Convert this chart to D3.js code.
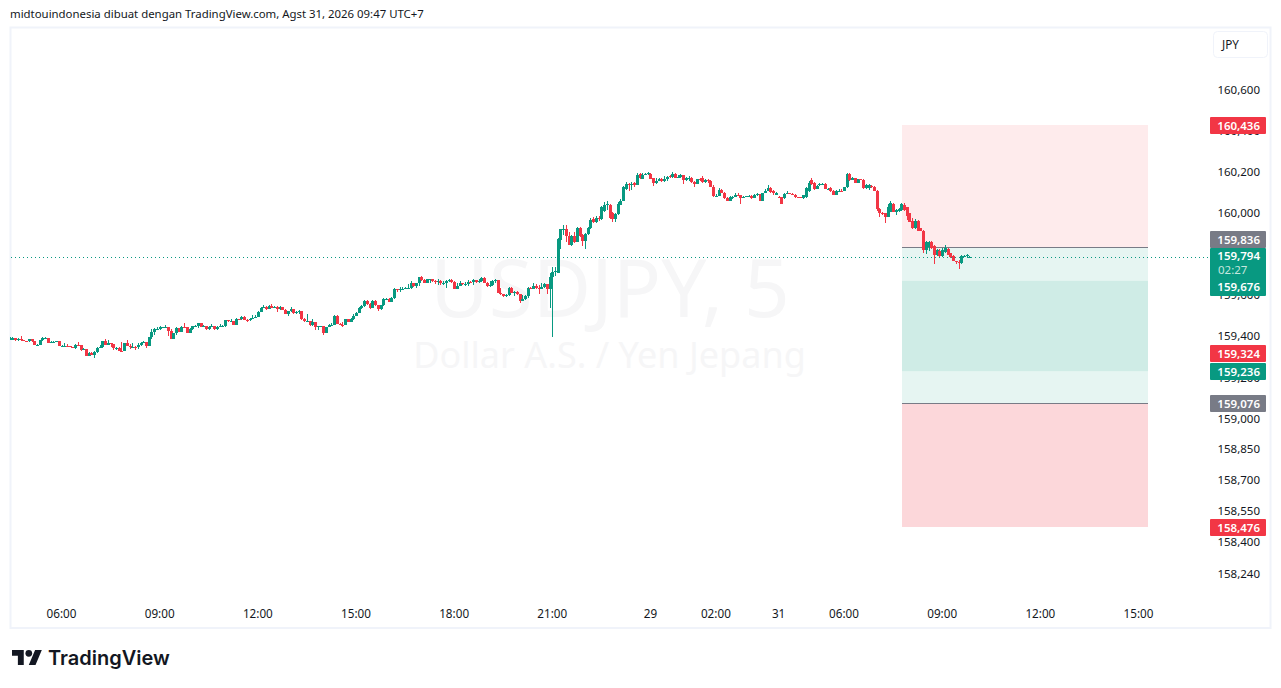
<!DOCTYPE html>
<html>
<head>
<meta charset="utf-8">
<script src="https://cdn.jsdelivr.net/npm/d3@7"></script>
<style>
  html, body { margin: 0; padding: 0; background: #fff; }
  svg { display: block; }
  text { font-family: "Noto Sans", sans-serif; }
</style>
</head>
<body>
<svg id="chart" width="1281" height="688"></svg>
<script>
// bars run from index 1, one per 5 minutes
const opens = [
  159.392,159.394,159.397,159.386,159.392,159.386,159.384,159.381,159.392,159.381,
  159.365,159.365,159.387,159.399,159.399,159.375,159.376,159.378,159.381,159.360,
  159.360,159.360,159.357,159.355,159.350,159.363,159.362,159.337,159.344,159.311,
  159.326,159.314,159.327,159.348,159.352,159.383,159.363,159.371,159.366,159.350,
  159.350,159.336,159.334,159.371,159.360,159.352,159.355,159.353,159.362,159.375,
  159.376,159.360,159.400,159.425,159.441,159.441,159.449,159.449,159.449,159.433,
  159.394,159.420,159.447,159.428,159.453,159.449,159.423,159.443,159.454,159.454,
  159.469,159.453,159.456,159.440,159.453,159.456,159.440,159.449,159.454,159.454,
  159.483,159.479,159.480,159.462,159.492,159.488,159.501,159.485,159.483,159.492,
  159.493,159.498,159.526,159.545,159.548,159.539,159.555,159.543,159.550,159.537,
  159.548,159.535,159.514,159.527,159.539,159.518,159.524,159.530,159.488,159.480,
  159.480,159.459,159.474,159.449,159.454,159.454,159.422,159.450,159.460,159.463,
  159.507,159.466,159.463,159.460,159.490,159.477,159.489,159.505,159.521,159.542,
  159.554,159.578,159.564,159.544,159.578,159.557,159.537,159.557,159.588,159.589,
  159.575,159.591,159.637,159.632,159.635,159.637,159.640,159.640,159.664,159.651,
  159.664,159.693,159.680,159.667,159.684,159.684,159.677,159.671,159.677,159.664,
  159.667,159.674,159.680,159.672,159.637,159.653,159.667,159.661,159.661,159.672,
  159.669,159.680,159.671,159.674,159.690,159.667,159.653,159.654,159.676,159.680,
  159.619,159.612,159.603,159.606,159.642,159.619,159.620,159.612,159.576,159.586,
  159.603,159.643,159.638,159.651,159.642,159.638,159.648,159.661,159.635,159.693,
  159.719,159.715,159.875,159.927,159.927,159.894,159.851,159.894,159.867,159.933,
  159.898,159.870,159.904,159.933,159.976,159.963,159.985,159.976,160.018,160.046,
  160.047,160.005,159.976,160.002,160.046,160.067,160.122,160.148,160.142,160.155,
  160.145,160.197,160.174,160.193,160.197,160.197,160.177,160.151,160.164,160.174,
  160.164,160.171,160.187,160.184,160.197,160.182,160.184,160.193,160.167,160.177,
  160.180,160.158,160.148,160.171,160.177,160.158,160.167,160.161,160.135,160.090,
  160.090,160.119,160.106,160.080,160.067,160.083,160.086,160.096,160.093,160.080,
  160.086,160.086,160.090,160.080,160.096,160.099,160.067,160.103,160.116,160.130,
  160.116,160.094,160.086,160.083,160.078,160.099,160.104,160.101,160.093,160.085,
  160.083,160.080,160.083,160.112,160.167,160.154,160.125,160.142,160.146,160.148,
  160.125,160.129,160.114,160.096,160.114,160.116,160.116,160.132,160.197,160.167,
  160.177,160.154,160.171,160.167,160.127,160.129,160.138,160.135,160.116,160.028,
  160.005,160.005,159.989,160.013,160.051,160.013,160.018,160.021,160.044,160.034,
  160.005,159.969,159.933,159.969,159.932,159.921,159.826,159.839,159.865,159.846,
  159.802,159.823,159.797,159.818,159.833,159.810,159.797,159.771,159.769,159.765,
  159.796,159.797,159.790
];
const highs = [
  159.402,159.402,159.394,159.399,159.407,159.387,159.384,159.394,159.392,159.381,
  159.368,159.389,159.402,159.402,159.399,159.381,159.383,159.383,159.379,159.363,
  159.373,159.368,159.360,159.355,159.368,159.378,159.363,159.348,159.345,159.329,
  159.329,159.336,159.352,159.362,159.384,159.392,159.387,159.373,159.370,159.355,
  159.352,159.378,159.373,159.387,159.366,159.371,159.360,159.371,159.378,159.383,
  159.379,159.404,159.441,159.444,159.449,159.456,159.453,159.461,159.449,159.439,
  159.423,159.451,159.447,159.456,159.470,159.449,159.446,159.456,159.462,159.470,
  159.470,159.459,159.456,159.456,159.466,159.456,159.456,159.466,159.459,159.485,
  159.482,159.488,159.480,159.493,159.492,159.506,159.503,159.490,159.496,159.508,
  159.510,159.529,159.548,159.556,159.555,159.560,159.561,159.555,159.553,159.555,
  159.548,159.537,159.530,159.548,159.539,159.529,159.534,159.530,159.495,159.514,
  159.480,159.490,159.472,159.456,159.457,159.450,159.453,159.466,159.473,159.510,
  159.508,159.469,159.476,159.492,159.492,159.494,159.513,159.524,159.547,159.557,
  159.581,159.583,159.567,159.581,159.583,159.557,159.560,159.591,159.593,159.591,
  159.599,159.641,159.638,159.648,159.645,159.645,159.661,159.674,159.668,159.668,
  159.697,159.700,159.684,159.685,159.687,159.687,159.680,159.684,159.680,159.674,
  159.680,159.687,159.687,159.674,159.664,159.674,159.668,159.671,159.680,159.676,
  159.687,159.680,159.687,159.695,159.693,159.671,159.676,159.680,159.684,159.677,
  159.640,159.612,159.612,159.645,159.645,159.628,159.628,159.612,159.606,159.607,
  159.646,159.648,159.664,159.661,159.654,159.664,159.668,159.661,159.712,159.742,
  159.745,159.885,159.929,159.948,159.948,159.916,159.898,159.914,159.937,159.937,
  159.904,159.911,159.940,159.981,159.986,159.992,159.992,160.041,160.062,160.064,
  160.051,160.013,160.008,160.062,160.073,160.138,160.156,160.151,160.158,160.159,
  160.200,160.200,160.200,160.203,160.207,160.203,160.180,160.176,160.180,160.176,
  160.187,160.187,160.190,160.207,160.200,160.190,160.197,160.193,160.184,160.187,
  160.184,160.164,160.174,160.180,160.187,160.174,160.174,160.167,160.142,160.099,
  160.129,160.125,160.109,160.086,160.090,160.090,160.106,160.106,160.096,160.090,
  160.092,160.096,160.093,160.099,160.103,160.099,160.106,160.122,160.142,160.132,
  160.119,160.109,160.090,160.086,160.106,160.112,160.106,160.103,160.099,160.086,
  160.085,160.096,160.132,160.164,160.176,160.158,160.142,160.154,160.151,160.151,
  160.129,160.132,160.117,160.117,160.125,160.122,160.135,160.200,160.200,160.184,
  160.180,160.174,160.174,160.171,160.148,160.148,160.142,160.138,160.119,160.031,
  160.011,160.008,160.051,160.064,160.054,160.028,160.031,160.057,160.054,160.038,
  160.008,159.981,159.979,159.973,159.935,159.924,159.870,159.870,159.868,159.849,
  159.833,159.829,159.836,159.851,159.836,159.813,159.800,159.774,159.778,159.802,
  159.804,159.807,159.798
];
const lows = [
  159.389,159.391,159.384,159.384,159.384,159.383,159.379,159.379,159.379,159.363,
  159.363,159.363,159.383,159.396,159.373,159.373,159.375,159.376,159.358,159.358,
  159.358,159.355,159.353,159.348,159.344,159.358,159.334,159.339,159.309,159.313,
  159.313,159.300,159.326,159.347,159.350,159.362,159.366,159.355,159.339,159.339,
  159.332,159.331,159.332,159.358,159.345,159.350,159.339,159.342,159.360,159.371,
  159.350,159.358,159.394,159.413,159.436,159.436,159.446,159.446,159.407,159.392,
  159.392,159.412,159.426,159.426,159.444,159.420,159.421,159.438,159.449,159.446,
  159.451,159.453,159.436,159.438,159.449,159.436,159.436,159.451,159.449,159.451,
  159.474,159.475,159.461,159.466,159.485,159.487,159.483,159.475,159.480,159.490,
  159.493,159.498,159.524,159.543,159.535,159.537,159.542,159.542,159.524,159.535,
  159.534,159.513,159.504,159.524,159.516,159.514,159.514,159.485,159.477,159.475,
  159.457,159.457,159.438,159.436,159.451,159.414,159.424,159.456,159.456,159.461,
  159.464,159.460,159.450,159.466,159.476,159.476,159.485,159.503,159.518,159.538,
  159.547,159.560,159.541,159.544,159.554,159.529,159.534,159.554,159.583,159.573,
  159.573,159.589,159.622,159.624,159.632,159.635,159.637,159.637,159.648,159.643,
  159.651,159.677,159.664,159.666,159.667,159.671,159.661,159.656,159.658,159.654,
  159.643,159.671,159.667,159.635,159.635,159.651,159.654,159.651,159.651,159.664,
  159.658,159.664,159.667,159.669,159.666,159.648,159.645,159.651,159.664,159.615,
  159.606,159.596,159.599,159.603,159.615,159.603,159.606,159.570,159.580,159.583,
  159.591,159.635,159.637,159.638,159.612,159.635,159.640,159.612,159.544,159.404,
  159.700,159.713,159.831,159.899,159.867,159.849,159.846,159.859,159.864,159.888,
  159.846,159.833,159.901,159.927,159.959,159.956,159.969,159.973,160.013,160.021,
  159.976,159.963,159.964,159.999,160.046,160.064,160.119,160.116,160.119,160.135,
  160.142,160.171,160.171,160.190,160.190,160.171,160.138,160.148,160.161,160.159,
  160.158,160.161,160.177,160.180,160.177,160.177,160.177,160.148,160.164,160.164,
  160.154,160.135,160.148,160.164,160.154,160.154,160.154,160.132,160.086,160.086,
  160.090,160.103,160.077,160.064,160.070,160.077,160.083,160.090,160.051,160.083,
  160.083,160.083,160.077,160.080,160.090,160.064,160.064,160.103,160.119,160.104,
  160.096,160.093,160.080,160.049,160.077,160.099,160.099,160.096,160.080,160.080,
  160.078,160.077,160.080,160.109,160.145,160.119,160.122,160.138,160.142,160.122,
  160.122,160.109,160.093,160.093,160.112,160.112,160.112,160.129,160.164,160.167,
  160.151,160.151,160.167,160.122,160.122,160.119,160.129,160.112,160.018,159.986,
  159.999,159.960,159.986,160.010,160.010,159.995,160.011,160.018,160.018,159.972,
  159.961,159.930,159.930,159.917,159.917,159.810,159.807,159.823,159.833,159.758,
  159.799,159.790,159.794,159.813,159.800,159.787,159.771,159.758,159.734,159.758,
  159.790,159.794,159.788
];
const closes = [
  159.394,159.397,159.386,159.392,159.386,159.384,159.381,159.392,159.381,159.365,
  159.365,159.387,159.399,159.399,159.375,159.376,159.378,159.381,159.360,159.360,
  159.360,159.357,159.355,159.350,159.363,159.362,159.337,159.344,159.311,159.326,
  159.314,159.327,159.348,159.352,159.383,159.363,159.371,159.366,159.350,159.350,
  159.336,159.334,159.371,159.360,159.352,159.355,159.353,159.362,159.375,159.376,
  159.360,159.400,159.425,159.441,159.441,159.449,159.449,159.449,159.433,159.394,
  159.420,159.447,159.428,159.453,159.449,159.423,159.443,159.454,159.454,159.469,
  159.453,159.456,159.440,159.453,159.456,159.440,159.449,159.454,159.454,159.483,
  159.479,159.480,159.462,159.492,159.488,159.501,159.485,159.483,159.492,159.493,
  159.498,159.526,159.545,159.548,159.539,159.555,159.543,159.550,159.537,159.548,
  159.535,159.514,159.527,159.539,159.518,159.524,159.530,159.488,159.480,159.480,
  159.459,159.474,159.449,159.454,159.454,159.422,159.450,159.460,159.463,159.507,
  159.466,159.463,159.460,159.490,159.477,159.489,159.505,159.521,159.542,159.554,
  159.578,159.564,159.544,159.578,159.557,159.537,159.557,159.588,159.589,159.575,
  159.591,159.637,159.632,159.635,159.637,159.640,159.640,159.664,159.651,159.664,
  159.693,159.680,159.667,159.684,159.684,159.677,159.671,159.677,159.664,159.667,
  159.674,159.680,159.672,159.637,159.653,159.667,159.661,159.661,159.672,159.669,
  159.680,159.671,159.674,159.690,159.667,159.653,159.654,159.676,159.680,159.619,
  159.612,159.603,159.606,159.642,159.619,159.620,159.612,159.576,159.586,159.603,
  159.643,159.638,159.651,159.642,159.638,159.648,159.661,159.635,159.693,159.719,
  159.722,159.880,159.927,159.929,159.894,159.852,159.894,159.867,159.933,159.894,
  159.870,159.904,159.933,159.973,159.963,159.981,159.976,160.038,160.046,160.049,
  159.981,159.976,160.002,160.051,160.067,160.135,160.148,160.142,160.148,160.142,
  160.192,160.180,160.193,160.197,160.200,160.174,160.153,160.164,160.174,160.164,
  160.171,160.184,160.184,160.197,160.180,160.184,160.193,160.167,160.177,160.180,
  160.158,160.148,160.171,160.169,160.158,160.167,160.161,160.135,160.090,160.090,
  160.119,160.106,160.080,160.067,160.083,160.086,160.096,160.093,160.080,160.086,
  160.088,160.090,160.080,160.096,160.099,160.067,160.103,160.116,160.129,160.107,
  160.103,160.104,160.083,160.051,160.099,160.106,160.103,160.099,160.083,160.083,
  160.081,160.093,160.129,160.154,160.148,160.122,160.138,160.148,160.148,160.125,
  160.126,160.112,160.096,160.114,160.116,160.115,160.132,160.197,160.167,160.177,
  160.154,160.171,160.170,160.129,160.143,160.142,160.132,160.116,160.025,160.005,
  160.004,159.989,160.034,160.054,160.013,160.021,160.025,160.051,160.021,159.992,
  159.964,159.933,159.969,159.921,159.921,159.826,159.867,159.867,159.836,159.802,
  159.826,159.797,159.826,159.834,159.804,159.791,159.774,159.766,159.765,159.797,
  159.797,159.800,159.794
];

const priceTicks = [160.6, 160.4, 160.2, 160, 159.6, 159.4, 159.2, 159, 158.85, 158.7, 158.55, 158.4, 158.24];
const timeTickBars = [20, 56, 92, 128, 164, 200, 236, 260, 283, 307, 343, 379, 415];
const timeTickLabels = ["06:00", "09:00", "12:00", "15:00", "18:00", "21:00", "29", "02:00", "31", "06:00", "09:00", "12:00", "15:00"];

// two position tools drawn on top of each other
const shortEntry = 159.836, shortStop = 160.436, shortTarget = 159.236;
const longEntry = 159.076, longStop = 158.476, longTarget = 159.676;
const lastPrice = 159.794;
const redTags = [160.436, 159.324, 158.476];
const grayTags = [159.836, 159.076];
const greenTags = [159.236];

const up = "#089981", down = "#f23645", gray = "#787b86", ink = "#131722";
const svg = d3.select("#chart");
const fmt = d3.formatLocale({ decimal: ",", thousands: ".", grouping: [3], currency: ["", ""] }).format(".3f");

const x = d3.scaleLinear().domain([20, 415]).range([62, 1139]);
const y = d3.scaleLinear().domain([160.436, 158.476]).range([125, 527]);

svg.append("text").attr("x", 10).attr("y", 18).attr("font-size", 11.4).attr("fill", ink)
  .text("midtouindonesia dibuat dengan TradingView.com, Agst 31, 2026 09:47 UTC+7");

svg.append("rect").attr("x", 10.5).attr("y", 27.5).attr("width", 1260).attr("height", 600.5)
  .attr("fill", "none").attr("stroke", "#f0f3fa").attr("stroke-width", 2);

// watermark
svg.append("text").attr("x", 610).attr("y", 317).attr("text-anchor", "middle")
  .attr("font-size", 80).attr("fill", "#f6f6f7").text("USDJPY, 5");
svg.append("text").attr("x", 609.5).attr("y", 368).attr("text-anchor", "middle")
  .attr("font-size", 36).attr("fill", "#f6f6f7").text("Dollar A.S. / Yen Jepang");

// position tools
const zones = [
  [shortEntry, shortStop, "rgba(242,54,69,0.1)"],
  [shortEntry, shortTarget, "rgba(8,153,129,0.1)"],
  [longEntry, longStop, "rgba(242,54,69,0.2)"],
  [longEntry, longTarget, "rgba(8,153,129,0.1)"]
];
svg.append("g").selectAll("rect").data(zones).join("rect")
  .attr("x", 902).attr("width", 246)
  .attr("y", d => Math.min(y(d[0]), y(d[1])))
  .attr("height", d => Math.abs(y(d[0]) - y(d[1])))
  .attr("fill", d => d[2]);
svg.append("g").selectAll("line").data([shortEntry, longEntry]).join("line")
  .attr("x1", 902).attr("x2", 1148)
  .attr("y1", d => Math.round(y(d)) - 0.5).attr("y2", d => Math.round(y(d)) - 0.5)
  .attr("stroke", gray);

// last price line
svg.append("line").attr("x1", 11).attr("x2", 1209)
  .attr("y1", Math.round(y(lastPrice)) + 0.5).attr("y2", Math.round(y(lastPrice)) + 0.5)
  .attr("stroke", up).attr("stroke-dasharray", "1 3");

// candles
const bars = closes.map((c, i) => ({ i: i + 1, o: opens[i], h: highs[i], l: lows[i], c }));
const candles = svg.append("g").selectAll("g").data(bars).join("g")
  .attr("fill", d => d.c >= d.o ? up : down);
candles.append("rect")
  .attr("x", d => Math.floor(x(d.i)))
  .attr("width", 1)
  .attr("y", d => Math.round(y(d.h)))
  .attr("height", d => Math.max(1, Math.round(y(d.l)) - Math.round(y(d.h))));
candles.append("rect")
  .attr("x", d => Math.max(11, Math.floor(x(d.i)) - 1))
  .attr("width", 3)
  .attr("y", d => Math.round(y(Math.max(d.o, d.c))))
  .attr("height", d => Math.max(1, Math.round(y(Math.min(d.o, d.c))) - Math.round(y(Math.max(d.o, d.c)))));

// price axis
svg.append("g").selectAll("text").data(priceTicks).join("text")
  .attr("x", 1260).attr("y", d => y(d) + 3).attr("text-anchor", "end")
  .attr("font-size", 11.5).attr("fill", ink).text(fmt);

// time axis
svg.append("g").selectAll("text").data(timeTickBars).join("text")
  .attr("x", d => x(d) - 0.5).attr("y", 618).attr("text-anchor", "middle")
  .attr("font-size", 11.7).attr("fill", ink).text((d, i) => timeTickLabels[i]);

// price tags, each one a hair above its level
const tagRows = [
  ...redTags.map(p => ({ p, fill: down })),
  ...grayTags.map(p => ({ p, fill: gray })),
  ...greenTags.map(p => ({ p, fill: up }))
];
// the upper gray tag gets pushed up by the last price tag below it
const tagTop = d => d.p === shortEntry ? 231 : Math.floor(y(d.p) - 8);
const tags = svg.append("g").selectAll("g").data(tagRows).join("g");
tags.append("rect").attr("x", 1210).attr("width", 56).attr("height", 17).attr("rx", 1)
  .attr("y", tagTop).attr("fill", d => d.fill);
tags.append("text").attr("x", 1260).attr("y", d => tagTop(d) + 12.5).attr("text-anchor", "end")
  .attr("font-size", 11.5).attr("font-weight", 600).attr("fill", "#fff").text(d => fmt(d.p));

// last price tag sits with the long target tag, which is pushed down to make room
svg.append("rect").attr("x", 1210).attr("y", 248).attr("width", 56).attr("height", 48).attr("rx", 1).attr("fill", up);
svg.append("text").attr("x", 1260).attr("y", 260).attr("text-anchor", "end").attr("font-size", 11.5)
  .attr("font-weight", 600).attr("fill", "#fff").text(fmt(lastPrice));
svg.append("text").attr("x", 1218).attr("y", 274).attr("font-size", 11.5).attr("fill", "#c5e6df").text("02:27");
svg.append("text").attr("x", 1260).attr("y", 291).attr("text-anchor", "end").attr("font-size", 11.5)
  .attr("font-weight", 600).attr("fill", "#fff").text(fmt(longTarget));

// currency button
svg.append("rect").attr("x", 1213.5).attr("y", 31.5).attr("width", 54).attr("height", 26).attr("rx", 4)
  .attr("fill", "#fff").attr("stroke", "#f0f3fa");
svg.append("text").attr("x", 1222).attr("y", 49).attr("font-size", 11.7).attr("fill", ink).text("JPY");

// logo
const logo = svg.append("g").attr("transform", "translate(12,646.6) scale(0.84)").attr("fill", ink);
logo.append("path").attr("d", "M14 22H7V11H0V4h14v18zM28 22h-8l7.5-18h8L28 22z");
logo.append("circle").attr("cx", 20).attr("cy", 8).attr("r", 4);
svg.append("text").attr("x", 48).attr("y", 665).attr("font-size", 20).attr("font-weight", 600)
  .attr("fill", ink).style("font-family", "Inter, sans-serif").text("TradingView");
</script>
</body>
</html>
